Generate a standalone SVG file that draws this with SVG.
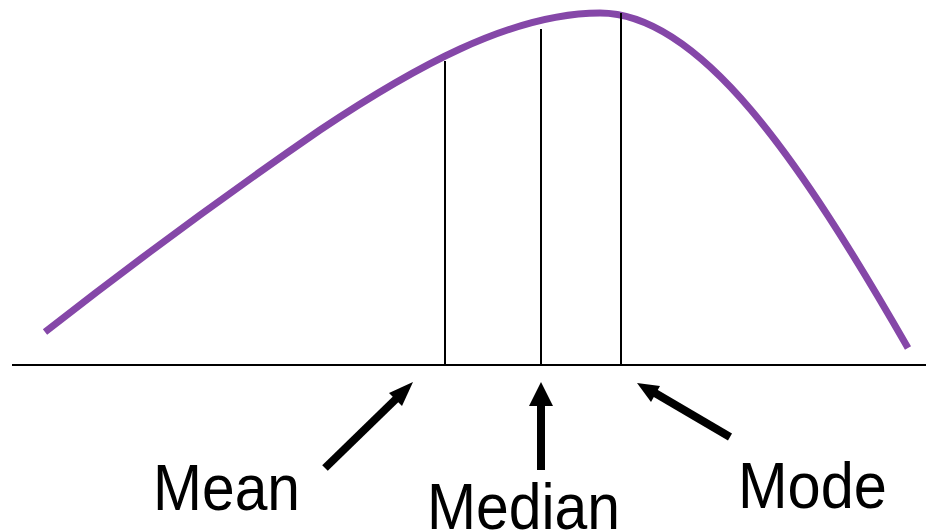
<svg xmlns="http://www.w3.org/2000/svg" width="926" height="531" viewBox="0 0 926 531">
<defs>
<style>
.curve{fill:none;stroke:#8547A8;stroke-width:7;stroke-linecap:butt}
.axis{stroke:#000;stroke-width:2}
.vline{stroke:#000;stroke-width:2}
.arrow{stroke:#000;stroke-width:8;fill:none}
.lbl{font-family:"Liberation Sans",Arial,sans-serif;font-size:64px;fill:#000}
</style>
</defs>
<rect width="926" height="531" fill="#fff"/>
<g id="distribution">
<path class="curve" d="M45,332 C150,250 240,185 320,130 C410,70 510,13 600,13 C700,13 800,160 908,348"/>
</g>
<g id="axis">
<line class="axis" x1="12" y1="365" x2="926" y2="365"/>
</g>
<g id="guides">
<line class="vline" x1="445" y1="61" x2="445" y2="365"/>
<line class="vline" x1="541" y1="29" x2="541" y2="365"/>
<line class="vline" x1="621" y1="13" x2="621" y2="365"/>
</g>
<g id="connectors">
<line class="arrow" x1="325" y1="468" x2="397" y2="398"/>
<path d="M413,382 L389,393 L402,406 z" fill="#000"/>
<line class="arrow" x1="541" y1="470" x2="541" y2="400"/>
<path d="M541,382 L529,406 L553,406 z" fill="#000"/>
<line class="arrow" x1="730" y1="437" x2="655" y2="393"/>
<path d="M637,383 L651,402 L660,386 z" fill="#000"/>
</g>
<g id="mean"><text class="lbl" x="153" y="510" textLength="147" lengthAdjust="spacingAndGlyphs">Mean</text></g>
<g id="median"><text class="lbl" x="427" y="529" textLength="193" lengthAdjust="spacingAndGlyphs">Median</text></g>
<g id="mode"><text class="lbl" x="738" y="508" textLength="149" lengthAdjust="spacingAndGlyphs">Mode</text></g>
</svg>
